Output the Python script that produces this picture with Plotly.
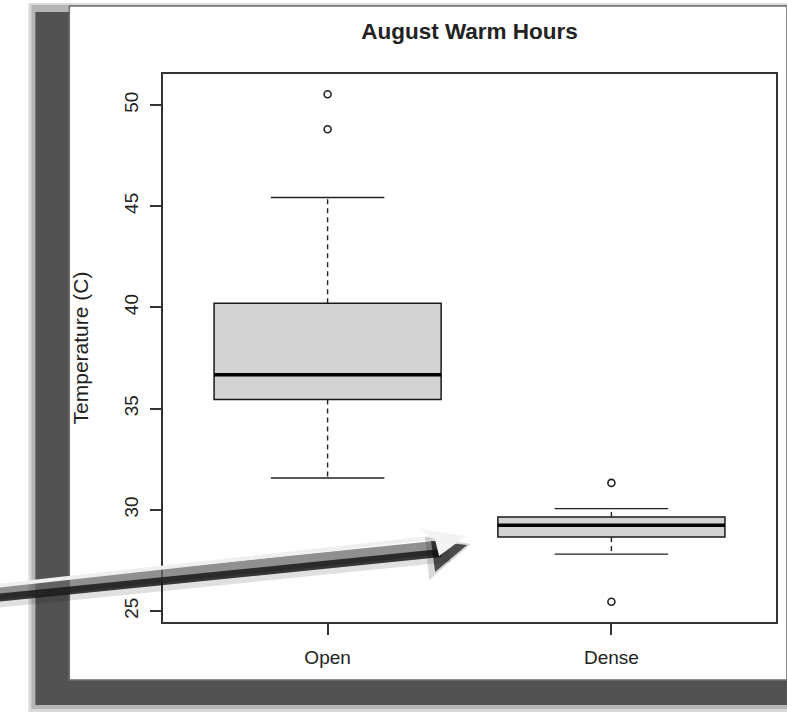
import plotly.graph_objects as go

# ---------------- data ----------------
groups = ["Open", "Dense"]
lower_whisker = [31.57, 27.81]
q1 = [35.45, 28.66]
median = [36.67, 29.24]
q3 = [40.20, 29.65]
upper_whisker = [45.43, 30.06]
outliers_open = [50.53, 48.80]
outliers_dense = [31.33, 25.46]
y_ticks = [25, 30, 35, 40, 45, 50]

title_text = "August Warm Hours"
y_title = "Temperature (C)"

# ---------------- geometry / style ----------------
W, H = 787, 712
L, R, T, B = 163, 9, 74, 90
PW, PH = W - L - R, H - T - B
BOX_HALF = 0.4
CAP_HALF = 0.2
FONT = "Liberation Sans, Arial, sans-serif"
INK = "#222222"

def px(xp):
    return (xp - L) / PW

def py(yp):
    return (H - B - yp) / PH

xpos = list(range(1, len(groups) + 1))
outliers = [outliers_open, outliers_dense]

# R-style axis range (4% extension)
all_vals = lower_whisker + upper_whisker + outliers_open + outliers_dense
ymin, ymax = min(all_vals), max(all_vals)
pad = 0.04 * (ymax - ymin)
yrange = [ymin - pad, ymax + pad]
xrange = [0.5 - 0.04 * len(groups), len(groups) + 0.5 + 0.04 * len(groups)]

fig = go.Figure()

# box bodies
fig.add_trace(go.Box(
    x=xpos, q1=q1, median=median, q3=q3,
    lowerfence=q1, upperfence=q3,
    width=2 * BOX_HALF, whiskerwidth=0,
    fillcolor="#d3d3d3", line=dict(color="#1a1a1a", width=1.5),
    boxpoints=False, showlegend=False, hoverinfo="skip",
))

# thick medians
mx, my = [], []
for x, m in zip(xpos, median):
    mx += [x - BOX_HALF, x + BOX_HALF, None]
    my += [m, m, None]
fig.add_trace(go.Scatter(x=mx, y=my, mode="lines",
                         line=dict(color="#000000", width=3.6),
                         showlegend=False, hoverinfo="skip"))

# dashed whiskers
wx, wy = [], []
for x, a, b, c, d in zip(xpos, lower_whisker, q1, q3, upper_whisker):
    wx += [x, x, None, x, x, None]
    wy += [b, a, None, c, d, None]
fig.add_trace(go.Scatter(x=wx, y=wy, mode="lines",
                         line=dict(color="#222222", width=1.4, dash="5px,4px"),
                         showlegend=False, hoverinfo="skip"))

# staples
sx, sy = [], []
for x, a, d in zip(xpos, lower_whisker, upper_whisker):
    sx += [x - CAP_HALF, x + CAP_HALF, None, x - CAP_HALF, x + CAP_HALF, None]
    sy += [a, a, None, d, d, None]
fig.add_trace(go.Scatter(x=sx, y=sy, mode="lines",
                         line=dict(color="#222222", width=1.4),
                         showlegend=False, hoverinfo="skip"))

# outliers
ox, oy = [], []
for x, vals in zip(xpos, outliers):
    ox += [x] * len(vals)
    oy += vals
fig.add_trace(go.Scatter(x=ox, y=oy, mode="markers",
                         marker=dict(symbol="circle-open", size=7, color="#222222",
                                     line=dict(color="#222222", width=1.6)),
                         showlegend=False, hoverinfo="skip"))

# ---------------- decorative frame + arrow ----------------
shapes = []
def rect(x0, y0, x1, y1, fill, line=None, layer="below"):
    shapes.append(dict(type="rect", xref="paper", yref="paper",
                       x0=px(x0), x1=px(x1), y0=py(y1), y1=py(y0),
                       fillcolor=fill, layer=layer,
                       line=line if line else dict(width=0)))

rect(28, 3, W + 2, 712, "#d9d9d9")
rect(31, 5, W + 2, 709, "#b5b5b5")
rect(35, 12, W + 2, 705, "#525252")
rect(69, 6, W + 2, 680, "#ffffff", line=dict(color="#6e6e6e", width=1.5))

def seg(x0, y0, x1, y1, color, width):
    shapes.append(dict(type="line", xref="paper", yref="paper",
                       x0=px(x0), y0=py(y0), x1=px(x1), y1=py(y1),
                       line=dict(color=color, width=width), layer="above"))

def poly(pts, fill):
    p = "M " + " L ".join(f"{px(a)},{py(b)}" for a, b in pts) + " Z"
    shapes.append(dict(type="path", xref="paper", yref="paper", path=p,
                       fillcolor=fill, line=dict(width=0), layer="above"))

seg(-5, 597, 450, 551, "rgba(0,0,0,0.12)", 22)
seg(-5, 593, 445, 547, "rgba(110,110,110,0.7)", 14)
seg(-5, 598, 442, 553, "rgba(25,25,25,0.85)", 8)
seg(-5, 586, 440, 537, "#efefef", 4)
poly([(472, 544), (426, 537), (430, 580)], "rgba(0,0,0,0.15)")
poly([(468, 545), (432, 541), (436, 572)], "rgba(15,15,15,0.7)")
poly([(467, 536), (421, 529), (436, 540), (440, 556)], "#f3f3f3")

fig.update_layout(
    width=W, height=H,
    margin=dict(l=L, r=R, t=T, b=B),
    paper_bgcolor="#ffffff", plot_bgcolor="#ffffff",
    font=dict(family=FONT, size=19, color=INK),
    title=dict(text=title_text, x=0.5, xref="paper", xanchor="center",
               y=1 - 31 / H, yref="container", yanchor="middle",
               font=dict(family=FONT, size=22.5, color=INK, weight="bold")),
    shapes=shapes,
    showlegend=False,
)
fig.update_xaxes(range=xrange, tickvals=xpos, ticktext=groups,
                 showgrid=False, zeroline=False,
                 showline=True, mirror=True, linecolor="#333333", linewidth=1.5,
                 ticks="outside", ticklen=11, tickwidth=1.5, tickcolor="#333333",
                 ticklabelstandoff=6,
                 tickfont=dict(family=FONT, size=19, color=INK))
fig.update_yaxes(range=yrange, tickvals=y_ticks,
                 showgrid=False, zeroline=False,
                 showline=True, mirror=True, linecolor="#333333", linewidth=1.5,
                 ticks="outside", ticklen=11, tickwidth=1.5, tickcolor="#333333",
                 tickangle=-90, ticklabelstandoff=5,
                 tickfont=dict(family=FONT, size=19, color=INK),
                 title=dict(text=y_title, standoff=26,
                            font=dict(family=FONT, size=21, color=INK)))

fig.write_html("out.html",
               config={"displayModeBar": False},
               post_script="document.body.style.margin='0';"
                           "document.body.style.overflow='hidden';")
